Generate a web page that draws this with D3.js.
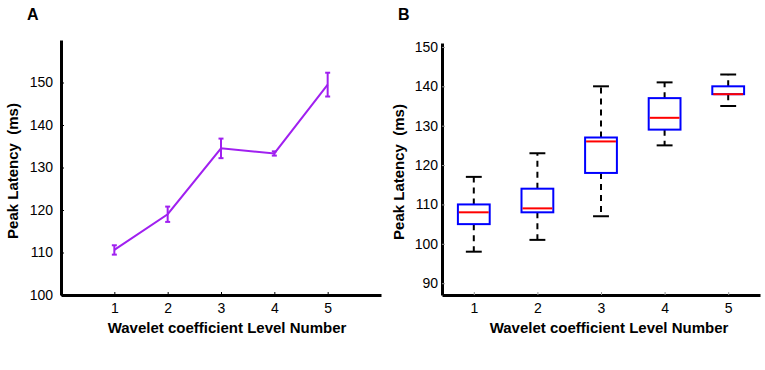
<!DOCTYPE html>
<html lang="en">
<head>
  <meta charset="UTF-8">
  <title>Peak latency</title>
  <script src="https://cdn.jsdelivr.net/npm/d3@7"></script>
  <style>
    body { margin: 0; background: #fff; }
    text { font-family: Arial, 'Liberation Sans', sans-serif; white-space: pre; }
  </style>
</head>
<body>
<script>
  // panel A : mean +- error
  const levels = [1, 2, 3, 4, 5]
  const meanLatency = [110.6, 119.0, 134.5, 133.3, 149.5]
  const errLatency = [1.1, 1.8, 2.3, 0.5, 2.8]
  const yTicksA = [100, 110, 120, 130, 140, 150]

  // panel B : boxplot stats
  const whiskerLow = [98, 101, 107, 125, 135]
  const q1 = [105, 108, 118, 129, 138]
  const medians = [108, 109, 126, 132, 138]
  const q3 = [110, 114, 127, 137, 140]
  const whiskerHigh = [117, 123, 140, 141, 143]
  const yTicksB = [90, 100, 110, 120, 130, 140, 150]

  const width = 765
  const height = 370
  const purple = '#a020f0'
  const tickFont = '14px'
  const labelFont = '15px'
  const svg = d3.select('body').append('svg').attr('width', width).attr('height', height)

  // ---------- A ----------
  const xA = d3.scaleLinear().domain([0, 6]).range([61, 381])
  const yA = d3.scaleLinear().domain([100, 160]).range([295, 40])

  const gA = svg.append('g')
  gA.append('g')
    .attr('transform', `translate(0,${yA(100)})`)
    .call(d3.axisBottom(xA).tickValues(levels).tickFormat(d3.format('d')).tickSize(-3).tickPadding(8).tickSizeOuter(0))
    .call(g => g.select('.domain').attr('stroke-width', 3))
    .call(g => g.selectAll('text').style('font-size', tickFont).attr('fill', '#000'))
  gA.append('g')
    .attr('transform', `translate(${xA(0)},0)`)
    .call(d3.axisLeft(yA).tickValues(yTicksA).tickSize(-3).tickPadding(8).tickSizeOuter(0))
    .call(g => g.select('.domain').attr('stroke-width', 3))
    .call(g => g.selectAll('text').style('font-size', tickFont).attr('fill', '#000'))

  const line = d3.line().x((d, i) => xA(levels[i])).y(d => yA(d))
  gA.append('path')
    .datum(meanLatency)
    .attr('d', line)
    .attr('fill', 'none')
    .attr('stroke', purple)
    .attr('stroke-width', 2)

  const errG = gA.append('g').attr('stroke', purple).attr('stroke-width', 2)
  errG.selectAll('line.v')
    .data(meanLatency)
    .join('line')
    .attr('x1', (d, i) => xA(levels[i])).attr('x2', (d, i) => xA(levels[i]))
    .attr('y1', (d, i) => yA(d - errLatency[i])).attr('y2', (d, i) => yA(d + errLatency[i]))
  errG.selectAll('line.t')
    .data(meanLatency)
    .join('line')
    .attr('x1', (d, i) => xA(levels[i]) - 2.5).attr('x2', (d, i) => xA(levels[i]) + 2.5)
    .attr('y1', (d, i) => yA(d + errLatency[i])).attr('y2', (d, i) => yA(d + errLatency[i]))
  errG.selectAll('line.b')
    .data(meanLatency)
    .join('line')
    .attr('x1', (d, i) => xA(levels[i]) - 2.5).attr('x2', (d, i) => xA(levels[i]) + 2.5)
    .attr('y1', (d, i) => yA(d - errLatency[i])).attr('y2', (d, i) => yA(d - errLatency[i]))

  svg.append('text').attr('x', 27).attr('y', 20)
    .attr('font-weight', 'bold').style('font-size', '16px').text('A')
  svg.append('text')
    .attr('transform', `translate(18,171) rotate(-90)`)
    .attr('text-anchor', 'middle')
    .attr('font-weight', 'bold').style('font-size', labelFont)
    .text('Peak Latency  (ms)')
  svg.append('text').attr('x', 227).attr('y', 333)
    .attr('text-anchor', 'middle')
    .attr('font-weight', 'bold').style('font-size', labelFont)
    .text('Wavelet coefficient Level Number')

  // ---------- B ----------
  const xB = d3.scaleLinear().domain([0.5, 5.5]).range([442, 760])
  const yB = d3.scaleLinear().domain([87, 151]).range([295, 43])

  const gB = svg.append('g')
  gB.append('g')
    .attr('transform', `translate(0,${yB(87)})`)
    .call(d3.axisBottom(xB).tickValues(levels).tickFormat(d3.format('d')).tickSize(-3).tickPadding(8).tickSizeOuter(0))
    .call(g => g.select('.domain').attr('stroke-width', 3))
    .call(g => g.selectAll('.tick line').attr('stroke', '#999'))
    .call(g => g.selectAll('text').style('font-size', tickFont).attr('fill', '#000'))
  gB.append('g')
    .attr('transform', `translate(${xB(0.5)},0)`)
    .call(d3.axisLeft(yB).tickValues(yTicksB).tickSize(-3).tickPadding(4).tickSizeOuter(0))
    .call(g => g.select('.domain').attr('stroke-width', 3))
    .call(g => g.selectAll('.tick line').attr('stroke', '#999'))
    .call(g => g.selectAll('text').style('font-size', tickFont).attr('fill', '#000'))

  const boxW = 0.25
  const capW = 0.125
  const boxes = gB.append('g').selectAll('g').data(levels).join('g')

  // whiskers
  boxes.append('line')
    .attr('x1', d => xB(d)).attr('x2', d => xB(d))
    .attr('y1', (d, i) => yB(q3[i])).attr('y2', (d, i) => yB(whiskerHigh[i]))
    .attr('stroke', '#000').attr('stroke-width', 2).attr('stroke-dasharray', '6,5')
  boxes.append('line')
    .attr('x1', d => xB(d)).attr('x2', d => xB(d))
    .attr('y1', (d, i) => yB(q1[i])).attr('y2', (d, i) => yB(whiskerLow[i]))
    .attr('stroke', '#000').attr('stroke-width', 2).attr('stroke-dasharray', '6,5')
  boxes.append('line')
    .attr('x1', d => xB(d - capW)).attr('x2', d => xB(d + capW))
    .attr('y1', (d, i) => yB(whiskerHigh[i])).attr('y2', (d, i) => yB(whiskerHigh[i]))
    .attr('stroke', '#000').attr('stroke-width', 2)
  boxes.append('line')
    .attr('x1', d => xB(d - capW)).attr('x2', d => xB(d + capW))
    .attr('y1', (d, i) => yB(whiskerLow[i])).attr('y2', (d, i) => yB(whiskerLow[i]))
    .attr('stroke', '#000').attr('stroke-width', 2)
  // boxes
  boxes.append('rect')
    .attr('x', d => xB(d - boxW))
    .attr('width', d => xB(d + boxW) - xB(d - boxW))
    .attr('y', (d, i) => yB(q3[i]))
    .attr('height', (d, i) => yB(q1[i]) - yB(q3[i]))
    .attr('fill', '#fff').attr('stroke', '#0000ff').attr('stroke-width', 2)
  boxes.append('line')
    .attr('x1', d => xB(d - boxW) + 1).attr('x2', d => xB(d + boxW) - 1)
    .attr('y1', (d, i) => yB(medians[i])).attr('y2', (d, i) => yB(medians[i]))
    .attr('stroke', '#ff0000').attr('stroke-width', 2)

  svg.append('text').attr('x', 398).attr('y', 20)
    .attr('font-weight', 'bold').style('font-size', '16px').text('B')
  svg.append('text')
    .attr('transform', `translate(404,172) rotate(-90)`)
    .attr('text-anchor', 'middle')
    .attr('font-weight', 'bold').style('font-size', labelFont)
    .text('Peak Latency  (ms)')
  svg.append('text').attr('x', 609).attr('y', 333)
    .attr('text-anchor', 'middle')
    .attr('font-weight', 'bold').style('font-size', labelFont)
    .text('Wavelet coefficient Level Number')
</script>
</body>
</html>
